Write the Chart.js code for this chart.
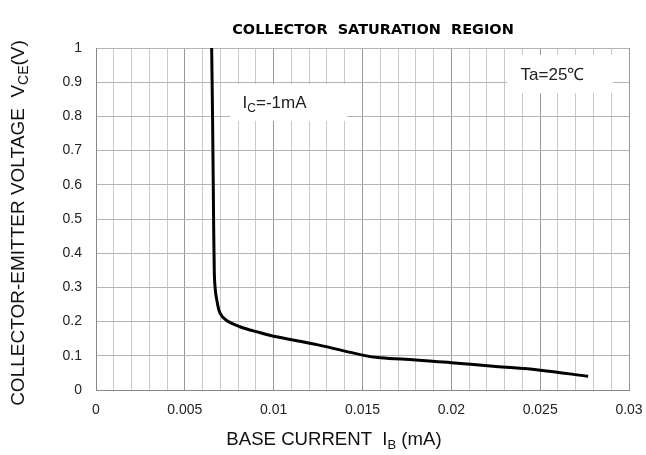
<!DOCTYPE html>
<html><head><meta charset="utf-8">
<script src="https://cdn.jsdelivr.net/npm/chart.js@4"></script>
<style>html,body{margin:0;padding:0;background:#fff}#wrap{width:646px;height:455px;position:relative}</style>
</head><body><div id="wrap"><canvas id="c"></canvas></div>
<script>
const ibValues = [0.00651,0.00656,0.0066,0.00666,0.00672,0.0068,0.00698,0.00735,0.0081,0.0092,0.0100,0.0125,0.0150,0.0160,0.0180,0.0200,0.0225,0.0250,0.0277];
const vceValues = [1.0,0.8,0.6,0.34,0.29,0.263,0.225,0.203,0.185,0.168,0.157,0.132,0.102,0.094,0.088,0.080,0.069,0.058,0.040];
const xTickLabels = ['0','0.005','0.01','0.015','0.02','0.025','0.03'];
const yTickLabels = ['0','0.1','0.2','0.3','0.4','0.5','0.6','0.7','0.8','0.9','1'];
const titleText = 'COLLECTOR  SATURATION  REGION';
const FONT = '"Liberation Sans", Arial, sans-serif';

function drawSub(ctx, parts, x, y, size) {
  let cx = x;
  for (const [t, sub] of parts) {
    ctx.font = (sub ? Math.round(size*0.72) : size) + 'px ' + FONT;
    ctx.fillText(t, cx, y + (sub ? size*0.22 : 0));
    cx += ctx.measureText(t).width;
  }
}
function measureSub(ctx, parts, size) {
  let w = 0;
  for (const [t, sub] of parts) {
    ctx.font = (sub ? Math.round(size*0.72) : size) + 'px ' + FONT;
    w += ctx.measureText(t).width;
  }
  return w;
}

const overlay = {
  id: 'overlay',
  afterDraw(chart) {
    const ctx = chart.ctx, xs = chart.scales.x, ys = chart.scales.y;
    ctx.save();
    ctx.textBaseline = 'alphabetic';
    const boxes = [
      {x0:0.00754,x1:0.01413,y0:0.895,y1:0.787,parts:[['I',false],['C',true],['=-1mA',false]],tx:0.00825},
      {x0:0.02313,x1:0.02909,y0:0.98,y1:0.868,parts:[['Ta=25℃',false]],tx:0.0239}
    ];
    for (const b of boxes) {
      const l = xs.getPixelForValue(b.x0), r = xs.getPixelForValue(b.x1);
      const t = ys.getPixelForValue(b.y0), bt = ys.getPixelForValue(b.y1);
      ctx.fillStyle = '#fff';
      ctx.fillRect(l, t, r-l, bt-t);
      ctx.fillStyle = '#222';
      drawSub(ctx, b.parts, xs.getPixelForValue(b.tx), (t+bt)/2 + 6, 17);
    }
    ctx.restore();
  }
};

const titles = {
  id: 'titles',
  afterDraw(chart) {
    const ctx = chart.ctx;
    ctx.save();
    ctx.fillStyle = '#000';
    ctx.textBaseline = 'alphabetic';
    ctx.font = 'bold 14.5px "DejaVu Sans", Verdana, sans-serif';
    ctx.textAlign = 'center';
    ctx.fillText(titleText, 373, 34);
    ctx.textAlign = 'left';
    const xp = [['BASE CURRENT  I',false],['B',true],[' (mA)',false]];
    const wx = measureSub(ctx, xp, 18.6);
    ctx.fillStyle = '#111';
    drawSub(ctx, xp, 334 - wx/2, 445, 18.6);
    const yp = [['COLLECTOR-EMITTER VOLTAGE  V',false],['CE',true],['(V)',false]];
    const wy = measureSub(ctx, yp, 19);
    ctx.translate(24, 223);
    ctx.rotate(-Math.PI/2);
    drawSub(ctx, yp, -wy/2, 0, 19);
    ctx.restore();
  }
};

new Chart(document.getElementById('c'), {
  type: 'scatter',
  data: {
    datasets: [{
      data: ibValues.map((v,i)=>({x:v, y:vceValues[i]})),
      showLine: true,
      borderColor: '#000',
      borderWidth: 3,
      pointRadius: 0,
      tension: 0.35,
      fill: false
    }]
  },
  options: {
    responsive: true,
    maintainAspectRatio: false,
    animation: false,
    layout: { padding: { top: 48, right: 17, left: 0, bottom: 0 } },
    plugins: { legend: { display: false }, tooltip: { enabled: false } },
    scales: {
      x: {
        type: 'linear', min: 0, max: 0.03,
        afterBuildTicks(s){ s.ticks = Array.from({length:31},(_,i)=>({value: i/1000})); },
        afterFit(s){ s.height = 65; s.paddingLeft = 0; s.paddingRight = 0; },
        ticks: {
          autoSkip: false, maxRotation: 0, padding: 12,
          color: '#222', font: { family: FONT, size: 14 },
          callback(v, i){ return i % 5 === 0 ? xTickLabels[i/5] : ''; }
        },
        grid: {
          color(c){ return (c.index % 5 === 0) ? '#999' : '#c8c8c8'; },
          lineWidth: 1, drawTicks: false
        },
        border: { color: '#888', width: 1 }
      },
      y: {
        type: 'linear', min: 0, max: 1,
        afterBuildTicks(s){ s.ticks = yTickLabels.map((_,i)=>({value: i/10})); },
        afterFit(s){ s.width = 96; s.paddingTop = 0; s.paddingBottom = 0; },
        ticks: {
          padding: 14, color: '#222', font: { family: FONT, size: 14 },
          callback(v, i){ return yTickLabels[i]; }
        },
        grid: { color: '#b4b4b4', lineWidth: 1, drawTicks: false },
        border: { color: '#888', width: 1 }
      }
    }
  },
  plugins: [overlay, titles]
});
</script></body></html>
